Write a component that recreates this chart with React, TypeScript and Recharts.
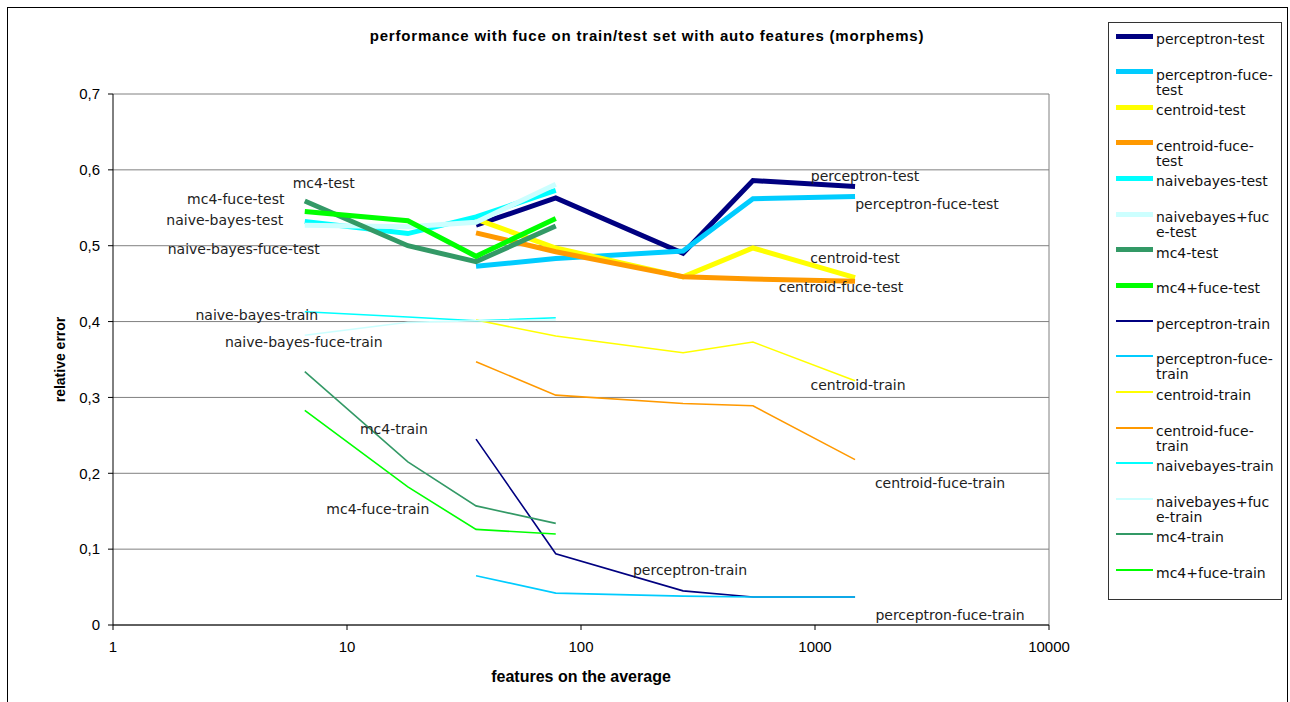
import React from 'react';
import { LineChart, Line, XAxis, YAxis, CartesianGrid, Legend, LabelList, ReferenceLine } from 'recharts';

// average number of features per setting (x, log scale)
const features = [6.6, 18.2, 35.6, 78, 273, 543, 1483];

// test-set relative error
const perceptronTest = [null, null, 0.527, 0.563, 0.49, 0.586, 0.578];
const perceptronFuceTest = [null, null, 0.473, 0.483, 0.493, 0.562, 0.565];
const centroidTest = [null, null, 0.535, 0.497, 0.459, 0.497, 0.458];
const centroidFuceTest = [null, null, 0.517, 0.492, 0.459, 0.456, 0.453];
const naivebayesTest = [0.532, 0.516, 0.538, 0.573, null, null, null];
const naivebayesFuceTest = [0.527, 0.525, 0.531, 0.581, null, null, null];
const mc4Test = [0.559, 0.5, 0.479, 0.526, null, null, null];
const mc4FuceTest = [0.545, 0.533, 0.486, 0.536, null, null, null];

// train-set relative error
const perceptronTrain = [null, null, 0.245, 0.094, 0.045, 0.037, 0.037];
const perceptronFuceTrain = [null, null, 0.065, 0.042, 0.038, 0.037, 0.037];
const centroidTrain = [null, null, 0.402, 0.381, 0.359, 0.373, 0.322];
const centroidFuceTrain = [null, null, 0.347, 0.303, 0.292, 0.289, 0.218];
const naivebayesTrain = [0.413, 0.406, 0.401, 0.405, null, null, null];
const naivebayesFuceTrain = [0.382, 0.399, 0.401, 0.402, null, null, null];
const mc4Train = [0.334, 0.215, 0.157, 0.134, null, null, null];
const mc4FuceTrain = [0.283, 0.182, 0.126, 0.12, null, null, null];

const xTicks = [1, 10, 100, 1000, 10000];
const yTicks = [0, 0.1, 0.2, 0.3, 0.4, 0.5, 0.6, 0.7];

type Series = {
  key: string;
  name: string;
  legend: string[];
  color: string;
  values: (number | null)[];
  thick: boolean;
};

const series: Series[] = [
  { key: 'perceptronTest', name: 'perceptron-test', legend: ['perceptron-test'], color: '#000080', values: perceptronTest, thick: true },
  { key: 'perceptronFuceTest', name: 'perceptron-fuce-test', legend: ['perceptron-fuce-', 'test'], color: '#00CCFF', values: perceptronFuceTest, thick: true },
  { key: 'centroidTest', name: 'centroid-test', legend: ['centroid-test'], color: '#FFFF00', values: centroidTest, thick: true },
  { key: 'centroidFuceTest', name: 'centroid-fuce-test', legend: ['centroid-fuce-', 'test'], color: '#FF9900', values: centroidFuceTest, thick: true },
  { key: 'naivebayesTest', name: 'naivebayes-test', legend: ['naivebayes-test'], color: '#00FFFF', values: naivebayesTest, thick: true },
  { key: 'naivebayesFuceTest', name: 'naivebayes+fuce-test', legend: ['naivebayes+fuc', 'e-test'], color: '#CCFFFF', values: naivebayesFuceTest, thick: true },
  { key: 'mc4Test', name: 'mc4-test', legend: ['mc4-test'], color: '#339966', values: mc4Test, thick: true },
  { key: 'mc4FuceTest', name: 'mc4+fuce-test', legend: ['mc4+fuce-test'], color: '#00FF00', values: mc4FuceTest, thick: true },
  { key: 'perceptronTrain', name: 'perceptron-train', legend: ['perceptron-train'], color: '#000080', values: perceptronTrain, thick: false },
  { key: 'perceptronFuceTrain', name: 'perceptron-fuce-train', legend: ['perceptron-fuce-', 'train'], color: '#00CCFF', values: perceptronFuceTrain, thick: false },
  { key: 'centroidTrain', name: 'centroid-train', legend: ['centroid-train'], color: '#FFFF00', values: centroidTrain, thick: false },
  { key: 'centroidFuceTrain', name: 'centroid-fuce-train', legend: ['centroid-fuce-', 'train'], color: '#FF9900', values: centroidFuceTrain, thick: false },
  { key: 'naivebayesTrain', name: 'naivebayes-train', legend: ['naivebayes-train'], color: '#00FFFF', values: naivebayesTrain, thick: false },
  { key: 'naivebayesFuceTrain', name: 'naivebayes+fuce-train', legend: ['naivebayes+fuc', 'e-train'], color: '#CCFFFF', values: naivebayesFuceTrain, thick: false },
  { key: 'mc4Train', name: 'mc4-train', legend: ['mc4-train'], color: '#339966', values: mc4Train, thick: false },
  { key: 'mc4FuceTrain', name: 'mc4+fuce-train', legend: ['mc4+fuce-train'], color: '#00FF00', values: mc4FuceTrain, thick: false },
];

const data = features.map((x, i) => {
  const row: Record<string, number | null> = { x };
  series.forEach((s) => {
    row[s.key] = s.values[i];
  });
  return row;
});

// text labels placed next to a point of a series (pixel offset from the point)
const notes = [
  { key: 'perceptronTest', index: 6, text: 'perceptron-test', dx: 10, dy: -10 },
  { key: 'perceptronFuceTest', index: 6, text: 'perceptron-fuce-test', dx: 72, dy: 8 },
  { key: 'centroidTest', index: 6, text: 'centroid-test', dx: 0, dy: -19 },
  { key: 'centroidFuceTest', index: 6, text: 'centroid-fuce-test', dx: -14, dy: 6 },
  { key: 'naivebayesTest', index: 0, text: 'naive-bayes-test', dx: -80, dy: -1 },
  { key: 'naivebayesFuceTest', index: 0, text: 'naive-bayes-fuce-test', dx: -61, dy: 24 },
  { key: 'mc4Test', index: 0, text: 'mc4-test', dx: 19, dy: -18 },
  { key: 'mc4FuceTest', index: 0, text: 'mc4-fuce-test', dx: -69, dy: -12 },
  { key: 'naivebayesTrain', index: 0, text: 'naive-bayes-train', dx: -48, dy: 3 },
  { key: 'naivebayesFuceTrain', index: 0, text: 'naive-bayes-fuce-train', dx: -1, dy: 7 },
  { key: 'centroidTrain', index: 6, text: 'centroid-train', dx: 3, dy: 4 },
  { key: 'centroidFuceTrain', index: 6, text: 'centroid-fuce-train', dx: 85, dy: 23 },
  { key: 'mc4Train', index: 1, text: 'mc4-train', dx: -14, dy: -33 },
  { key: 'mc4FuceTrain', index: 1, text: 'mc4-fuce-train', dx: -30, dy: 22 },
  { key: 'perceptronTrain', index: 4, text: 'perceptron-train', dx: 7, dy: -21 },
  { key: 'perceptronFuceTrain', index: 6, text: 'perceptron-fuce-train', dx: 95, dy: 18 },
];

const labelFont = '"DejaVu Sans", Verdana, sans-serif';
const axisFont = '"Liberation Sans", Arial, sans-serif';

const noteRenderer = (key: string) => (p: any) => {
  const note = notes.find((n) => n.key === key && n.index === p.index);
  if (!note || p.x == null || p.y == null) return null;
  return (
    <text
      x={p.x + note.dx}
      y={p.y + note.dy}
      dy="0.35em"
      textAnchor="middle"
      fontFamily={labelFont}
      fontSize={14}
      fill="#222"
    >
      {note.text}
    </text>
  );
};

const fmtY = (v: number) => (v === 0 ? '0' : v.toFixed(1).replace('.', ','));

const LegendBox = () => (
  <div style={{ position: 'relative', width: 172, height: 576, fontFamily: labelFont, fontSize: 14, color: '#111' }}>
    {series.map((s, i) => {
      const top = 13 + i * 35.6;
      const h = s.thick ? 5 : 2;
      return (
        <React.Fragment key={s.key}>
          <div style={{ position: 'absolute', left: 7, top: top - h / 2, width: 37, height: h, background: s.color }} />
          <div style={{ position: 'absolute', left: 47, top: top - 4, lineHeight: '15px', whiteSpace: 'nowrap' }}>
            {s.legend.map((l) => (
              <div key={l}>{l}</div>
            ))}
          </div>
        </React.Fragment>
      );
    })}
  </div>
);

export default function App() {
  return (
    <div style={{ position: 'absolute', left: 0, top: 0, width: 1290, height: 702, background: '#fff', overflow: 'hidden' }}>
      <div style={{ position: 'absolute', left: 7, top: 7, width: 1279, height: 700, border: '1px solid #000' }} />
      <div
        style={{
          position: 'absolute',
          left: 247,
          top: 27,
          width: 800,
          textAlign: 'center',
          fontFamily: axisFont,
          fontWeight: 'bold',
          fontSize: 15,
          letterSpacing: 0.8,
          color: '#000',
        }}
      >
        performance with fuce on train/test set with auto features (morphems)
      </div>
      <div style={{ position: 'absolute', left: 0, top: 0 }}>
        <LineChart width={1290} height={702} data={data} margin={{ top: 94, right: 241, bottom: 47, left: 53 }}>
          <CartesianGrid vertical={false} stroke="#808080" strokeWidth={1} />
          <ReferenceLine x={10000} stroke="#808080" ifOverflow="visible" />
          <XAxis
            dataKey="x"
            type="number"
            scale="log"
            domain={[1, 10000]}
            ticks={xTicks}
            interval={0}
            height={30}
            tickSize={5}
            tickMargin={11}
            stroke="#000"
            tick={{ fill: '#000', fontFamily: axisFont, fontSize: 15 }}
            label={{
              content: (p: any) => {
                const vb = p.viewBox;
                return (
                  <text x={vb.x + vb.width / 2} y={vb.y + 51} dy="0.35em" textAnchor="middle" fontFamily={axisFont} fontWeight="bold" fontSize={16} fill="#000">
                    features on the average
                  </text>
                );
              },
            }}
          />
          <YAxis
            type="number"
            domain={[0, 0.7]}
            ticks={yTicks}
            interval={0}
            width={60}
            tickSize={5}
            tickMargin={8}
            stroke="#000"
            tickFormatter={fmtY}
            tick={{ fill: '#000', fontFamily: axisFont, fontSize: 15 }}
            label={{
              content: (p: any) => {
                const vb = p.viewBox;
                const cx = vb.x + 7;
                const cy = vb.y + vb.height / 2;
                return (
                  <text x={cx} y={cy} dy="0.35em" textAnchor="middle" transform={`rotate(-90 ${cx} ${cy})`} fontFamily={axisFont} fontWeight="bold" fontSize={14} fill="#000">
                    relative error
                  </text>
                );
              },
            }}
          />
          <Legend
            layout="horizontal"
            verticalAlign="middle"
            align="center"
            wrapperStyle={{ left: 1108, top: 22, width: 172, height: 576, border: '1px solid #333', background: '#fff' }}
            content={() => <LegendBox />}
          />
          {series.map((s) => (
            <Line
              key={s.key}
              dataKey={s.key}
              name={s.name}
              type="linear"
              stroke={s.color}
              strokeWidth={s.thick ? 5 : 1.6}
              strokeLinejoin="miter"
              dot={false}
              activeDot={false}
              isAnimationActive={false}
            >
              <LabelList dataKey={s.key} content={noteRenderer(s.key)} />
            </Line>
          ))}
        </LineChart>
      </div>
    </div>
  );
}
